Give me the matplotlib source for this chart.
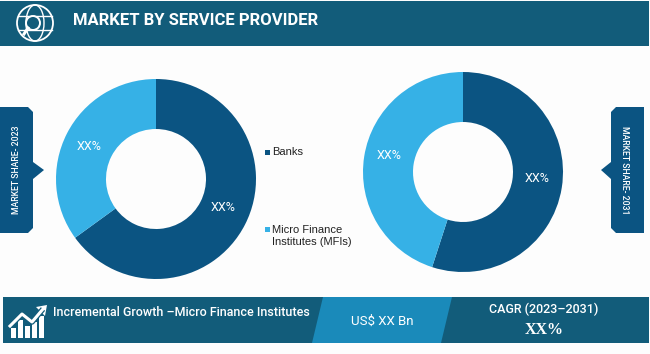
import matplotlib
matplotlib.use('Agg')
import matplotlib.pyplot as plt
from matplotlib.patches import Polygon, Rectangle, Circle, Ellipse

# Werte
categories = ['Banks', 'Micro Finance\nInstitutes (MFIs)']
share_2023 = [65, 35]
share_2031 = [55, 45]
pie_labels = ['XX%', 'XX%']

title = 'MARKET BY SERVICE PROVIDER'
growth_text = 'Incremental Growth \u2013Micro Finance Institutes'
value_text = 'US$ XX Bn'
cagr_text = 'CAGR (2023\u20132031)'
cagr_value = 'XX%'

W, H = 650, 354
band = '#125C7A'
band_light = '#1A8ABA'
dark = '#0B5482'
light = '#36B1E6'
narrow = ['Roboto', 'DejaVu Sans']
sans = ['Liberation Sans', 'DejaVu Sans']

fig = plt.figure(figsize=(W / 100, H / 100), dpi=100, facecolor='#FDFDFD')

# Overlay in Pixelkoordinaten
ov = fig.add_axes([0, 0, 1, 1])
ov.set_xlim(0, W)
ov.set_ylim(H, 0)
ov.axis('off')


def donut(cx, cy, r, values, shifts):
    ax = fig.add_axes([(cx - r) / W, 1 - (cy + r) / H, 2 * r / W, 2 * r / H])
    wedges, texts = ax.pie(values, colors=[dark, light], startangle=90, counterclock=False,
                           labels=pie_labels, labeldistance=0.75, radius=1,
                           wedgeprops={'width': 0.5, 'linewidth': 0},
                           textprops={'color': 'white', 'fontsize': 9, 'ha': 'center', 'va': 'center',
                                      'family': narrow})
    # Beschriftung leicht verschieben
    for t, s in zip(texts, shifts):
        x, y = t.get_position()
        t.set_position((x, y + s))
    ax.set_xlim(-1, 1)
    ax.set_ylim(-1, 1)
    return wedges


donut(156, 179, 100, share_2023, [0.06, -0.02])
donut(463, 172, 100, share_2031, [0.05, 0.045])

# Kopfzeile
ov.add_patch(Rectangle((0, 1), 649, 45, color=band, lw=0))
ov.text(73, 20.5, title, color='white', fontsize=12, fontweight='bold', family=narrow, ha='left', va='center')

# Globus mit Lupe
ov.add_patch(Circle((35, 23), 18, fill=False, ec='white', lw=1.3))
ov.add_patch(Ellipse((35, 23), 18, 36, fill=False, ec='white', lw=1))
ov.plot([18, 52], [16, 16], color='white', lw=1)
ov.plot([18, 52], [30, 30], color='white', lw=1)
ov.add_patch(Circle((33, 23), 7, fc=band, ec='white', lw=1.4, zorder=3))
ov.plot([28, 24], [28, 34], color='white', lw=2.2, zorder=3)

# Fusszeile
ov.add_patch(Rectangle((3, 297), 646, 46, color=band, lw=0))
ov.add_patch(Polygon([(323, 297), (452, 297), (441, 343), (312, 343)], color=band_light, lw=0))
ov.text(53, 312, growth_text, color='white', fontsize=9, family=narrow, ha='left', va='center', fontweight='medium')
ov.text(382, 321, value_text, color='white', fontsize=9.5, family=narrow, ha='center', va='center')
ov.text(544, 309, cagr_text, color='white', fontsize=9, family=narrow, ha='center', va='center', fontweight='medium')
ov.text(544, 330, cagr_value, color='white', fontsize=11.5, family=['Liberation Serif', 'DejaVu Serif'], ha='center', va='center', fontweight='bold')

# Wachstums-Icon
for bx, top in zip([11, 18, 25, 32, 39], [328, 320, 326, 322, 316]):
    ov.add_patch(Rectangle((bx, top), 5, 338 - top, color='white', lw=0))
ov.plot([10, 22, 32, 43], [326, 314, 322, 309], color=band, lw=4, solid_capstyle='butt')
ov.plot([10, 22, 32, 43], [326, 314, 322, 309], color='white', lw=2.2)
ov.add_patch(Polygon([(47, 305), (36, 307), (45, 316)], color='white', lw=0))

# Seitenfahnen
ov.add_patch(Polygon([(0, 107), (28, 107), (33, 112), (33, 162), (44, 170), (33, 179), (33, 228), (28, 233), (0, 233)],
                     color=dark, lw=0))
ov.add_patch(Polygon([(644, 107), (616, 107), (611, 112), (611, 162), (601, 170), (611, 179), (611, 228), (616, 233), (644, 233)],
                     color=dark, lw=0))
ov.text(17, 170, 'MARKET SHARE- 2023', color='white', fontsize=6.2, family=narrow, rotation=90, ha='center', va='center', fontweight='medium')
ov.text(625, 170, 'MARKET SHARE- 2031', color='white', fontsize=6.2, family=narrow, rotation=270, ha='center', va='center', fontweight='medium')

# Legende
legend_y = [152, 229]
text_y = [152, 236]
for col, name, my, ty in zip([dark, light], categories, legend_y, text_y):
    ov.plot([267], [my], marker='s', ms=3.6, color=col, mew=0)
    ov.text(272.5, ty, name, color='#222222', fontsize=8, family=sans,
            ha='left', va='center', linespacing=1.35)

fig.savefig('out.png', dpi=100, facecolor=fig.get_facecolor())
